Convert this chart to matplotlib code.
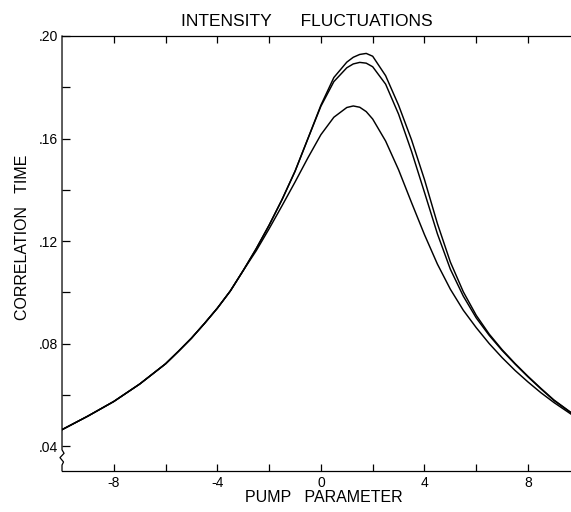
import matplotlib
matplotlib.use('Agg')
import numpy as np
import matplotlib.pyplot as plt
from matplotlib.ticker import FixedLocator

plt.rcParams['font.family'] = ['Liberation Sans', 'DejaVu Sans']
plt.rcParams['axes.unicode_minus'] = False

# pump parameter grid
pump = [-10, -9, -8, -7, -6, -5.5, -5, -4.5, -4, -3.5, -3, -2.5, -2, -1.5,
        -1, -0.5, 0, 0.5, 1, 1.25, 1.5, 1.75, 2, 2.5, 3, 3.5, 4, 4.5, 5,
        5.5, 6, 6.5, 7, 7.5, 8, 8.5, 9, 9.7]

# correlation time, three curves
corr_top = [0.0464, 0.0517, 0.0574, 0.0642, 0.0721, 0.0770, 0.0821, 0.0878,
            0.0938, 0.1005, 0.1085, 0.1170, 0.1262, 0.1362, 0.1472, 0.1600,
            0.1730, 0.1838, 0.1898, 0.1917, 0.1928, 0.1932, 0.1921, 0.1845,
            0.1730, 0.1595, 0.1440, 0.1268, 0.1118, 0.1002, 0.0910, 0.0837,
            0.0776, 0.0722, 0.0672, 0.0625, 0.0580, 0.0528]
corr_mid = [0.0464, 0.0517, 0.0574, 0.0642, 0.0721, 0.0770, 0.0821, 0.0878,
            0.0938, 0.1005, 0.1085, 0.1170, 0.1262, 0.1362, 0.1472, 0.1600,
            0.1726, 0.1822, 0.1876, 0.1891, 0.1897, 0.1894, 0.1880, 0.1812,
            0.1695, 0.1550, 0.1390, 0.1228, 0.1090, 0.0985, 0.0900, 0.0832,
            0.0773, 0.0720, 0.0670, 0.0623, 0.0578, 0.0527]
corr_low = [0.0464, 0.0517, 0.0574, 0.0642, 0.0721, 0.0770, 0.0821, 0.0878,
            0.0938, 0.1005, 0.1085, 0.1162, 0.1248, 0.1338, 0.1430, 0.1525,
            0.1615, 0.1683, 0.1721, 0.1727, 0.1722, 0.1705, 0.1676, 0.1590,
            0.1478, 0.1350, 0.1225, 0.1110, 0.1012, 0.0930, 0.0862, 0.0800,
            0.0745, 0.0695, 0.0650, 0.0608, 0.0570, 0.0522]

x_major = [-8, -4, 0, 4, 8]
x_minor = [-6, -2, 2, 6]
y_ticks = [0.04, 0.06, 0.08, 0.10, 0.12, 0.14, 0.16, 0.18, 0.20]
y_labels = ['.04', '', '.08', '', '.12', '', '.16', '', '.20']

fig = plt.figure(figsize=(5.71, 5.12), dpi=100)
ax = fig.add_axes([0.1086, 0.0807, 0.8914, 0.849])

for ys in (corr_top, corr_mid, corr_low):
    ax.plot(pump, ys, color='black', lw=1.05)

ax.set_xlim(-10, 9.66)
ax.set_ylim(0.0304, 0.20)

ax.xaxis.set_major_locator(FixedLocator(x_major))
ax.xaxis.set_minor_locator(FixedLocator(x_minor))
ax.set_xticklabels([str(v) for v in x_major])
ax.set_yticks(y_ticks)
ax.set_yticklabels(y_labels)

ax.tick_params(axis='x', which='both', direction='in', length=5, width=0.9,
               top=True, bottom=True, labelsize=10, pad=4)
ax.tick_params(axis='y', direction='in', length=6, width=0.9,
               left=True, right=False, labelsize=10, pad=3)

ax.spines['right'].set_visible(False)
ax.spines['left'].set_visible(False)
for s in ('top', 'bottom'):
    ax.spines[s].set_linewidth(0.9)

# left axis with the break squiggle near the bottom
sx = [0, 0, 0.004, -0.004, 0.003, 0, 0]
sy = [1, 0.048, 0.040, 0.030, 0.020, 0.013, 0]
ax.plot(sx, sy, color='black', lw=0.9, transform=ax.transAxes, clip_on=False)

fig.text(0.5377, 0.949, 'INTENSITY      FLUCTUATIONS', ha='center',
         va='baseline', fontsize=12.5)
fig.text(0.567, 0.020, 'PUMP   PARAMETER', ha='center', va='baseline',
         fontsize=11.5)
fig.text(0.04, 1 - 237.5 / 512, 'CORRELATION   TIME', rotation=90,
         ha='center', va='center', fontsize=11.5)

fig.savefig('out.png', dpi=100)
